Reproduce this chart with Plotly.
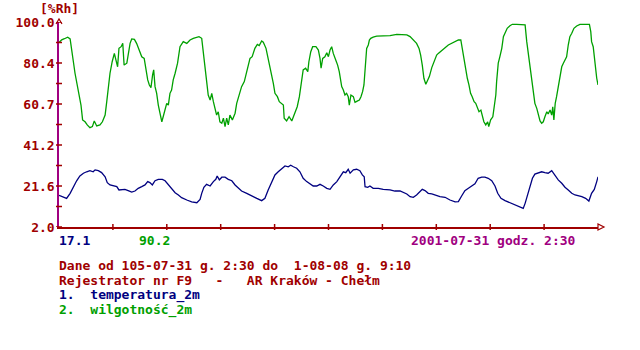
import pandas as pd
import plotly.graph_objects as go

# --- recorder readings (hours after start, value) ---
START = "2001-07-31 02:30"
END = "2001-08-08 09:10"

hum_hours = [0.0, 1.0, 2.0, 3.2, 4.1, 4.7, 5.3, 5.9, 6.7, 7.4, 8.1, 8.7, 9.6, 10.4, 11.4, 12.3, 13.0, 13.9,
             15.1, 16.0, 17.0, 17.6, 18.2, 18.8, 19.6, 20.4, 21.0, 21.6, 22.1, 22.9, 23.5, 24.0, 25.0, 25.5,
             26.2, 26.8, 27.8, 28.6, 29.5, 30.5, 31.4, 32.0, 32.7, 33.3, 33.9, 34.5, 34.9, 35.4, 36.0, 36.6,
             37.2, 37.9, 38.4, 39.1, 39.7, 40.3, 40.9, 41.5, 42.1, 42.8, 43.7, 44.6, 45.8, 47.1, 48.3, 49.5,
             50.8, 51.6, 52.6, 53.2, 53.8, 54.4, 55.0, 55.7, 56.3, 56.9, 57.5, 58.1, 58.7, 59.3, 60.0, 60.6,
             61.2, 61.8, 62.4, 63.0, 63.9, 64.9, 65.5, 66.3, 67.3, 68.3, 68.9, 69.8, 70.4, 71.2, 72.2, 73.1,
             73.8, 74.7, 75.3, 76.3, 77.1, 77.8, 78.4, 79.0, 79.6, 80.5, 81.2, 82.1, 82.7, 83.0, 83.9, 84.8,
             85.8, 86.4, 87.0, 87.8, 88.6, 89.2, 90.0, 90.9, 91.7, 92.1, 92.8, 93.5, 94.7, 95.6, 96.2, 96.6,
             97.2, 98.0, 98.7, 99.3, 99.9, 100.5, 101.1, 102.0, 102.7, 103.3, 103.8, 104.2, 104.8, 105.4,
             106.0, 106.6, 107.0, 107.6, 108.5, 109.1, 109.9, 110.7, 111.3, 111.9, 112.4, 112.8, 113.4,
             114.0, 114.4, 114.9, 115.8, 117.1, 119.5, 122.0, 124.5, 126.9, 128.2, 129.4, 130.6, 131.8,
             132.7, 133.3, 133.9, 134.5, 135.2, 135.9, 136.5, 137.4, 139.2, 139.8, 141.1, 142.3, 143.5,
             144.7, 146.0, 147.2, 148.1, 148.6, 149.3, 149.9, 150.5, 151.1, 151.7, 152.3, 153.0, 153.6,
             154.2, 154.8, 155.5, 156.0, 156.6, 157.3, 158.0, 158.4, 159.1, 159.9, 160.3, 161.0, 161.3,
             161.9, 162.5, 163.2, 163.8, 164.4, 165.2, 166.2, 167.1, 168.7, 171.1, 171.8, 172.4, 173.0,
             173.6, 174.2, 174.8, 175.4, 176.1, 176.7, 177.3, 177.9, 178.5, 179.1, 179.8, 180.3, 181.0,
             181.6, 182.0, 182.4, 182.9, 183.4, 184.0, 184.7, 185.3, 185.9, 186.5, 187.1, 187.7, 188.3,
             189.0, 189.8, 190.8, 192.0, 193.9, 195.5, 196.0, 196.3, 196.9, 197.3, 197.8, 198.2, 198.67]
hum_vals = [90.2, 91.5, 92.0, 92.7, 91.9, 87.4, 81.0, 75.5, 69.9, 65.1, 60.3, 53.2, 52.3, 50.8, 49.5, 50.0, 52.7, 50.3,
            50.8, 52.3, 55.5, 61.9, 69.9, 75.5, 81.0, 85.0, 81.8, 78.6, 87.4, 88.2, 89.8, 79.4, 80.3, 85.0,
            89.8, 91.9, 91.7, 89.8, 86.6, 83.4, 82.6, 77.9, 72.3, 69.9, 68.6, 74.7, 77.1, 69.1, 65.9, 60.3,
            57.1, 52.3, 54.7, 58.7, 61.1, 60.3, 65.9, 67.5, 72.3, 75.5, 80.3, 88.2, 90.6, 89.8, 91.4, 92.2,
            92.5, 93.0, 92.2, 85.8, 77.9, 71.5, 65.1, 62.7, 65.9, 61.9, 58.7, 55.5, 57.1, 52.3, 51.6, 54.0,
            50.0, 54.0, 50.8, 55.5, 53.2, 56.4, 61.1, 65.1, 69.1, 71.5, 74.7, 78.6, 82.6, 83.4, 87.4, 89.3,
            88.7, 90.9, 90.3, 87.4, 82.6, 77.9, 74.7, 70.7, 65.9, 64.3, 61.9, 61.1, 60.3, 54.0, 52.7, 54.7,
            52.7, 54.7, 57.1, 59.5, 64.3, 69.1, 77.1, 77.9, 76.3, 81.0, 85.8, 88.2, 88.2, 86.6, 82.6, 77.9,
            82.6, 83.4, 85.3, 83.4, 86.6, 88.2, 85.0, 81.8, 79.4, 76.3, 73.1, 69.1, 67.5, 65.1,
            65.9, 64.3, 60.3, 65.1, 64.3, 61.6, 62.2, 62.7, 64.3, 66.7, 69.9, 77.9, 87.4,
            89.0, 91.4, 92.2, 92.8, 93.2, 93.2, 93.5, 94.1, 94.1, 93.8, 93.0, 91.4, 89.8,
            87.4, 84.2, 79.4, 73.1, 70.2, 72.3, 73.9, 78.2, 84.2, 85.0, 86.6, 87.7, 89.0,
            89.8, 90.6, 91.4, 91.4, 87.4, 81.8, 77.1, 73.1, 69.9, 65.9, 64.3, 61.9, 61.1,
            58.7, 57.1, 57.9, 55.5, 52.3, 50.8, 52.3, 50.0, 53.2, 54.7, 57.9, 65.1, 71.5,
            80.3, 83.4, 87.4, 93.0, 94.6, 97.0, 98.2, 98.9, 98.9, 98.9, 98.6, 90.6, 84.2,
            79.4, 71.5, 66.7, 61.1, 58.7, 55.5, 52.7, 51.6, 52.3, 54.7, 57.1, 56.0, 57.9,
            55.5, 59.5, 53.2, 61.1, 64.3, 68.3, 73.1, 78.6, 80.3, 81.8, 83.4, 89.0, 93.0,
            94.6, 97.0, 98.1, 98.9, 98.9, 98.9, 95.4, 90.6, 88.2, 82.6, 77.1, 73.1, 69.9]

temp_hours = [0.0, 1.6, 2.8, 4.1, 5.3, 6.5, 7.7, 9.0, 10.2, 11.4, 12.6, 13.3, 14.5, 15.7, 17.0, 17.8, 18.8,
              20.0, 21.3, 22.1, 23.1, 24.3, 25.5, 26.8, 28.0, 29.2, 30.5, 31.7, 32.7, 33.5, 34.4, 35.4,
              36.6, 38.1, 39.1, 40.3, 41.5, 42.8, 44.0, 45.2, 47.1, 48.9, 50.8, 52.0, 52.6, 53.4, 54.4,
              55.7, 56.9, 57.8, 58.3, 59.1, 60.0, 61.2, 62.4, 63.7, 64.9, 66.1, 67.3, 69.2, 71.0, 72.9,
              74.7, 75.9, 77.1, 78.4, 79.6, 80.8, 82.1, 83.3, 84.5, 85.4, 86.4, 87.6, 88.8, 90.0, 91.3,
              92.5, 93.7, 95.0, 96.2, 97.4, 98.7, 99.9, 101.1, 102.4, 103.6, 104.8, 105.7, 106.6, 107.3,
              108.5, 109.7, 110.9, 111.8, 112.5, 112.8, 113.8, 114.6, 115.8, 117.7, 119.5, 122.0, 123.8,
              125.7, 126.9, 128.2, 129.4, 130.6, 131.8, 133.1, 133.9, 134.9, 136.1, 137.4, 138.8, 140.4,
              142.3, 144.1, 146.0, 147.2, 148.4, 149.6, 150.9, 152.1, 153.3, 154.5, 155.8, 157.0, 158.2,
              159.5, 160.7, 161.7, 162.9, 164.4, 166.2, 168.1, 169.9, 171.1, 171.8, 172.8, 173.6, 174.5,
              175.4, 176.7, 177.9, 179.1, 180.3, 181.6, 182.8, 184.0, 185.3, 186.5, 187.7, 189.0, 190.2,
              191.4, 192.7, 194.1, 195.3, 196.3, 197.3, 198.2, 198.67]
temp_vals = [17.1, 16.5, 15.7, 18.1, 21.3, 24.1, 26.4, 27.7, 28.4, 28.9, 28.4, 29.3, 28.9, 28.0, 26.0, 23.2, 22.1,
             21.6, 21.3, 19.7, 20.0, 20.0, 19.4, 18.7, 19.2, 20.5, 21.3, 22.1, 23.7, 23.2, 22.1, 24.1,
             24.8, 24.8, 24.1, 22.1, 20.0, 18.4, 17.3, 16.0, 14.9, 14.0, 13.6, 15.2, 18.1, 21.0, 22.4,
             21.6, 23.7, 24.8, 26.4, 24.5, 25.8, 25.8, 24.8, 24.1, 22.1, 20.5, 19.2, 18.1, 16.8, 15.7,
             14.6, 15.7, 19.7, 23.7, 26.9, 28.4, 30.1, 31.2, 30.8, 31.5, 30.8, 30.1, 28.4, 25.3, 23.7,
             22.6, 21.6, 21.6, 22.4, 21.6, 20.5, 20.0, 22.1, 23.7, 26.4, 28.4, 28.0, 29.6, 27.7,
             29.3, 29.6, 28.9, 26.9, 26.0, 21.3, 21.0, 21.6, 20.5, 20.5, 20.0, 19.7, 19.2,
             19.2, 18.4, 17.8, 16.5, 16.2, 17.3, 18.9, 20.0, 19.4, 18.1, 17.8, 17.3, 16.5,
             16.2, 14.9, 14.0, 14.1, 16.8, 19.4, 20.5, 21.6, 22.6, 25.3, 25.8, 25.8, 25.3,
             24.1, 21.6, 18.1, 15.7, 14.6, 13.6, 12.9, 11.7, 10.9, 13.3, 18.1, 22.1, 25.3,
             27.3, 28.0, 28.4, 28.0, 27.7, 28.9, 26.4, 24.5, 22.9, 21.0, 19.7, 18.1, 17.3,
             17.0, 16.5, 15.7, 14.4, 18.1, 20.0, 23.7, 26.0]

y_tick_labels = ["2.0", "21.6", "41.2", "60.7", "80.4", "100.0"]
Y_MIN, Y_MAX = 2.0, 100.0

DARK_RED = "#a00000"
MAGENTA = "#a00080"
GREEN = "#00a000"
NAVY = "#000080"
FONT = dict(family="DejaVu Sans Mono", size=13, weight="bold")
NB = "\u00a0"

start = pd.Timestamp(START)
end = pd.Timestamp(END)
span = end - start
hum_t = start + pd.to_timedelta(hum_hours, unit="h")
temp_t = start + pd.to_timedelta(temp_hours, unit="h")

fig = go.Figure()
fig.add_trace(go.Scatter(x=hum_t, y=hum_vals, mode="lines", line=dict(color=GREEN, width=1.3),
                         name="wilgotność_2m"))
fig.add_trace(go.Scatter(x=temp_t, y=temp_vals, mode="lines", line=dict(color=NAVY, width=1.3),
                         name="temperatura_2m"))

n_y = len(y_tick_labels)
y_step = (Y_MAX - Y_MIN) / (n_y - 1)
y_major = [Y_MIN + i * y_step for i in range(n_y)]
y_minor = [v + y_step / 2 for v in y_major[:-1]]

shapes = []
# y-axis ticks crossing the axis line
for v in y_major + y_minor:
    shapes.append(dict(type="line", xref="paper", yref="y", x0=-3, x1=3, y0=v, y1=v,
                       xsizemode="pixel", xanchor=0, line=dict(color=DARK_RED, width=1.5)))
# x-axis ticks, ten equal divisions of the recording span
x_ticks = [start + span * k / 10 for k in range(1, 10)]
for t in x_ticks:
    shapes.append(dict(type="line", xref="x", yref="paper", x0=t, x1=t, y0=-3, y1=3,
                       ysizemode="pixel", yanchor=0, line=dict(color=DARK_RED, width=1.5)))
# arrow heads at the axis ends
shapes.append(dict(type="path", xref="paper", yref="paper", xsizemode="pixel", ysizemode="pixel",
                   xanchor=0, yanchor=1, path="M -3,-2 L 0,3 L 3,-2",
                   line=dict(color=DARK_RED, width=1.2)))
shapes.append(dict(type="path", xref="paper", yref="paper", xsizemode="pixel", ysizemode="pixel",
                   xanchor=1, yanchor=0, path="M 0,-3 L 6,0 L 0,3 Z",
                   line=dict(color=DARK_RED, width=1.2)))


def note(text, x_px, y_px, color, anchor="left"):
    # place a text line at a pixel offset from the plot's lower-left corner
    return dict(text=text, xref="paper", yref="paper", x=0, y=0, xshift=x_px, yshift=-y_px,
                xanchor=anchor, yanchor="middle", showarrow=False,
                font=dict(color=color, **FONT))


annotations = [
    dict(text="[%Rh]", xref="paper", yref="paper", x=0, y=1, yshift=14, xanchor="center",
         yanchor="middle", showarrow=False, font=dict(color=DARK_RED, **FONT)),
    note("17.1", -2, 13, NAVY),
    note("90.2", 78, 13, GREEN),
    note("2001-07-31 godz. 2:30", 350, 13, MAGENTA),
    note("Dane od 105-07-31 g. 2:30 do" + NB * 2 + "1-08-08 g. 9:10", -2, 38, DARK_RED),
    note("Rejestrator nr F9" + NB * 3 + "-" + NB * 3 + "AR Kraków - Chełm", -2, 53, DARK_RED),
    note("1." + NB * 2 + "temperatura_2m", -2, 68, NAVY),
    note("2." + NB * 2 + "wilgotność_2m", -2, 83, GREEN),
]

fig.update_layout(
    width=640, height=350,
    margin=dict(l=59, r=42, t=22, b=123),
    paper_bgcolor="white", plot_bgcolor="white",
    showlegend=False,
    shapes=shapes,
    annotations=annotations,
    xaxis=dict(range=[start, end], showgrid=False, zeroline=False, showticklabels=False,
               ticks="", showline=True, linecolor=DARK_RED, linewidth=1.5),
    yaxis=dict(range=[Y_MIN, Y_MAX], showgrid=False, zeroline=False,
               tickvals=y_major, ticktext=y_tick_labels, ticks="",
               tickfont=dict(color=DARK_RED, **FONT),
               showline=True, linecolor=MAGENTA, linewidth=1.5),
)

fig.write_html("out.html")
